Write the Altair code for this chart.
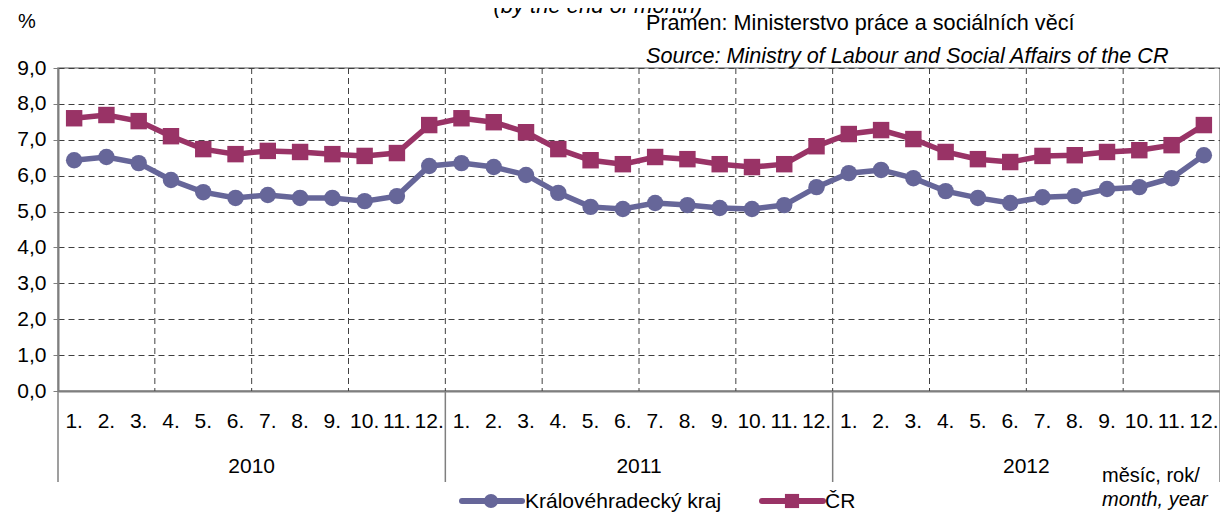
import altair as alt
import pandas as pd

# ---- data ----
years = ["2010", "2011", "2012"]
month_labels = ["1.", "2.", "3.", "4.", "5.", "6.", "7.", "8.", "9.", "10.", "11.", "12."]
series_names = ["Královéhradecký kraj", "ČR"]
kh_values = [6.43, 6.52, 6.35, 5.88, 5.54, 5.38, 5.46, 5.38, 5.38, 5.29, 5.43, 6.27,
             6.35, 6.24, 6.02, 5.52, 5.13, 5.07, 5.24, 5.18, 5.10, 5.07, 5.18, 5.68,
             6.07, 6.16, 5.93, 5.57, 5.38, 5.24, 5.40, 5.43, 5.63, 5.68, 5.93, 6.57]
cr_values = [7.60, 7.69, 7.52, 7.10, 6.74, 6.60, 6.69, 6.66, 6.60, 6.55, 6.63, 7.41,
             7.60, 7.49, 7.21, 6.74, 6.43, 6.32, 6.52, 6.46, 6.32, 6.24, 6.32, 6.82,
             7.16, 7.27, 7.02, 6.66, 6.46, 6.38, 6.55, 6.57, 6.66, 6.71, 6.85, 7.41]
colors = ["#666699", "#993366"]
shapes = ["circle", "square"]
y_ticks = [0, 1, 2, 3, 4, 5, 6, 7, 8, 9]
grid_months = [3, 6, 9, 12, 15, 18, 21, 24, 27, 30, 33]
year_bounds = [0, 12, 24, 36]

FONT = "Liberation Sans"
FS = 21
W, H = 1162, 323

n = len(years) * len(month_labels)
rows = []
for s, vals in zip(series_names, [kh_values, cr_values]):
    for i in range(n):
        rows.append({"series": s, "pos": i + 0.5, "value": vals[i]})
df = pd.DataFrame(rows)

xs = alt.Scale(domain=[0, 36], nice=False, zero=False)
ys = alt.Scale(domain=[0, 9], nice=False)
cs = alt.Scale(domain=series_names, range=colors)
ss = alt.Scale(domain=series_names, range=shapes)

x_axis = alt.Axis(labels=False, ticks=False, grid=False, title=None,
                  domainColor="#7f7f7f", domainWidth=2)
y_axis = alt.Axis(values=y_ticks, tickCount=20, title=None, grid=True, gridDash=[6, 4],
                  gridColor="#404040", gridWidth=1,
                  labelExpr="replace(format(datum.value, '.1f'), '.', ',')",
                  labelOverlap=False, labelFlush=False, labelBound=False,
                  labelFont=FONT, labelFontSize=FS, labelColor="#000000", labelPadding=7,
                  tickColor="#7f7f7f", tickSize=5, domainColor="#7f7f7f", domainWidth=2)

base = alt.Chart(df)

lines = base.mark_line(strokeWidth=5.5).encode(
    x=alt.X("pos:Q", scale=xs, axis=x_axis),
    y=alt.Y("value:Q", scale=ys, axis=y_axis),
    color=alt.Color("series:N", scale=cs, legend=None),
    detail="series:N",
)
points = base.mark_point(filled=True, opacity=1, size=270).encode(
    x=alt.X("pos:Q", scale=xs, axis=x_axis),
    y=alt.Y("value:Q", scale=ys, axis=y_axis),
    color=alt.Color("series:N", scale=cs, legend=None),
    shape=alt.Shape("series:N", scale=ss, legend=None),
)

vgrid = alt.Chart(pd.DataFrame({"x": grid_months})).mark_rule(
    strokeDash=[6, 4], color="#404040", strokeWidth=1
).encode(x=alt.X("x:Q", scale=xs, axis=x_axis))

seps = alt.Chart(pd.DataFrame({"x": year_bounds})).mark_rule(color="#7f7f7f", strokeWidth=1.5).encode(
    x=alt.X("x:Q", scale=xs, axis=x_axis), y=alt.value(H), y2=alt.value(414)
)

mdf = pd.DataFrame({"pos": [i + 0.5 for i in range(n)],
                    "lab": [month_labels[i % 12] for i in range(n)]})
mtext = alt.Chart(mdf).mark_text(font=FONT, fontSize=FS, baseline="middle", align="center",
                                 color="#000000").encode(
    x=alt.X("pos:Q", scale=xs, axis=x_axis), y=alt.value(354), text="lab:N")

ydf = pd.DataFrame({"pos": [6, 18, 30], "lab": years})
ytext = alt.Chart(ydf).mark_text(font=FONT, fontSize=FS, baseline="middle", align="center",
                                 color="#000000").encode(
    x=alt.X("pos:Q", scale=xs, axis=x_axis), y=alt.value(399), text="lab:N")

def txt(t, x, y, align="left", italic=False, size=FS, baseline="alphabetic"):
    return alt.Chart(pd.DataFrame({"t": [t]})).mark_text(
        font=FONT, fontSize=size, align=align, baseline=baseline, color="#000000",
        fontStyle="italic" if italic else "normal"
    ).encode(x=alt.value(x), y=alt.value(y), text="t:N")

texts = [
    txt("%", -31, -40, align="center", size=20),
    txt("(by the end of month)", 540, -55, align="center", italic=True, size=22),
    txt("Pramen: Ministerstvo práce a sociálních věcí", 588, -38, size=21.6),
    txt("Source: Ministry of Labour and Social Affairs of the CR", 588, -5, italic=True, size=21.6),
    txt("měsíc, rok/", 1044, 408, baseline="middle", size=20),
    txt("month, year", 1044, 432, italic=True, baseline="middle", size=20),
]

# legend (decoration)
leg_y = 433
leg = []
for name, col, shp, x1, x2, xp, xt in [
    (series_names[0], colors[0], shapes[0], 404, 464, 433, 467),
    (series_names[1], colors[1], shapes[1], 704, 765, 734, 767),
]:
    d = pd.DataFrame({"t": [name]})
    leg.append(alt.Chart(d).mark_rule(color=col, strokeWidth=6, strokeCap="round").encode(
        x=alt.value(x1), x2=alt.value(x2), y=alt.value(leg_y)))
    leg.append(alt.Chart(d).mark_point(filled=True, opacity=1, size=200, shape=shp, color=col).encode(
        x=alt.value(xp), y=alt.value(leg_y)))
    leg.append(alt.Chart(d).mark_text(font=FONT, fontSize=FS, align="left", baseline="middle",
                                      color="#000000").encode(
        x=alt.value(xt), y=alt.value(leg_y + 1), text="t:N"))

chart = alt.layer(vgrid, lines, points, seps, mtext, ytext, *texts, *leg).properties(
    width=W, height=H,
    autosize=alt.AutoSizeParams(type="none"),
    padding={"left": 50, "top": 60, "right": 0, "bottom": 121},
    background="#ffffff",
).configure_view(stroke="#8c8c8c", strokeWidth=1.5)

chart.save("out.html", embed_options={"renderer": "svg", "actions": False})
